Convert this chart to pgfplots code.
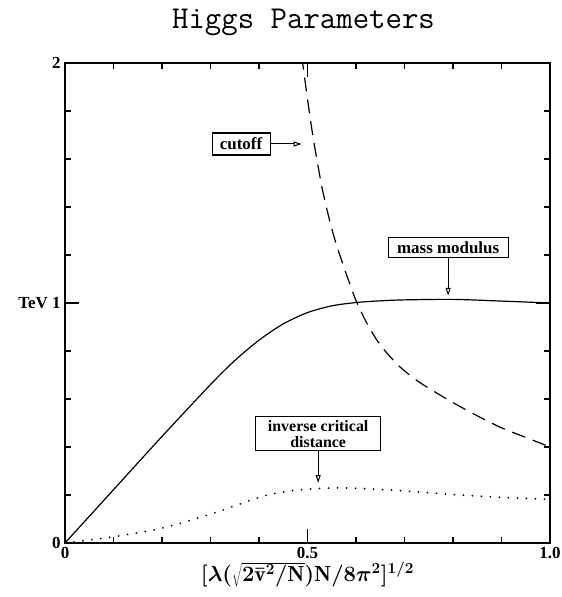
\RequirePackage{fix-cm}
\documentclass[border=0pt]{standalone}
\usepackage{fontspec}
\newfontfamily\labfont{Liberation Serif}
\usepackage{pgfplots}
\pgfplotsset{compat=1.18}
\usetikzlibrary{arrows.meta}
\begin{document}
\begin{tikzpicture}
\begin{axis}[
  scale only axis,
  width=485bp, height=480bp,
  xmin=0, xmax=1, ymin=0, ymax=2,
  axis line style={line width=1.4bp},
  tick style={line width=1.1bp, black},
  tick align=inside,
  major tick length=14bp,
  minor tick length=6bp,
  xtick={0,0.5,1}, xticklabels={0,0.5,1.0},
  minor xtick={0.1,0.2,0.3,0.4,0.6,0.7,0.8,0.9},
  ytick={0,1,2}, yticklabels={0,TeV 1,2},
  minor ytick={0.2,0.4,0.6,0.8,1.2,1.4,1.6,1.8},
  tick label style={font=\labfont\bfseries\fontsize{17}{19}\selectfont},
  xticklabel style={yshift=-1bp},
  yticklabel style={xshift=-1bp},
  xlabel={$[\lambda(\sqrt{2\bar{\mathrm{v}}^2/\mathrm{N}})\mathrm{N}/8\pi^2]^{1/2}$},
  xlabel style={yshift=4bp, font=\fontsize{22}{24}\selectfont\boldmath},
  clip mode=individual,
]
\addplot[black, line width=1.2bp, smooth] coordinates {
(0,0) (0.1,0.222) (0.2,0.444) (0.3,0.66) (0.35,0.76) (0.4,0.845) (0.45,0.913) (0.5,0.96) (0.55,0.988) (0.6,1.002) (0.65,1.009) (0.7,1.013) (0.8,1.015) (0.9,1.008) (1.0,1.0)
};
\addplot[black, line width=1.2bp, smooth, dash pattern=on 14bp off 8bp] coordinates {
(0.488,2.03) (0.50,1.85) (0.51,1.71) (0.52,1.59) (0.53,1.48) (0.54,1.39) (0.55,1.31) (0.56,1.24) (0.57,1.18) (0.58,1.12) (0.59,1.065) (0.60,1.01) (0.62,0.925) (0.64,0.855) (0.66,0.80) (0.69,0.735) (0.72,0.685) (0.75,0.645) (0.80,0.585) (0.85,0.53) (0.9,0.48) (0.95,0.44) (1.0,0.40)
};
\addplot[black, line width=2bp, smooth, line cap=round, dash pattern=on 0.01bp off 9bp] coordinates {
(0,0) (0.1,0.026) (0.2,0.062) (0.3,0.12) (0.4,0.19) (0.45,0.213) (0.5,0.224) (0.55,0.229) (0.6,0.228) (0.7,0.217) (0.8,0.202) (0.9,0.19) (1.0,0.182)
};
% annotations
\node[draw, line width=1.1bp, inner sep=3bp, font=\labfont\bfseries\fontsize{17}{17}\selectfont, minimum width=58bp, minimum height=22bp] (c) at (axis cs:0.363,1.6625) {cutoff};
\draw[line width=1bp, -{Triangle[open, length=8bp, width=5bp]}] (c.east) -- (axis cs:0.488,1.6625);
\node[draw, line width=1.1bp, inner sep=3bp, font=\labfont\bfseries\fontsize{17}{17}\selectfont, minimum width=120bp, minimum height=20bp] (m) at (axis cs:0.79,1.23) {mass modulus};
\draw[line width=1bp, -{Triangle[open, length=8bp, width=5bp]}] (m.south) -- (axis cs:0.79,1.03);
\node[draw, line width=1.1bp, inner sep=2bp, align=center, font=\labfont\bfseries\fontsize{16}{16}\selectfont, minimum width=125bp, minimum height=34bp] (d) at (axis cs:0.522,0.455) {inverse critical\\distance};
\draw[line width=1bp, -{Triangle[open, length=8bp, width=5bp]}] (d.south) -- (axis cs:0.522,0.25);
\end{axis}
\node[font=\fontsize{32}{34}\selectfont\ttfamily] at ([yshift=41bp, xshift=-4bp]current axis.north) {Higgs Parameters};
\pgfresetboundingbox
\path[use as bounding box] (current axis.south west) ++(-65bp,-54bp) rectangle ++(562bp,597bp);
\end{tikzpicture}
\end{document}
